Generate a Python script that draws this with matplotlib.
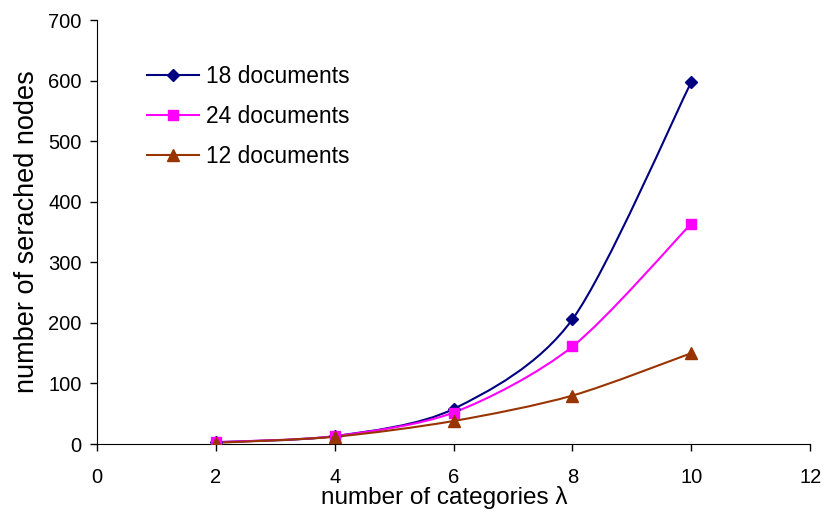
import numpy as np
import matplotlib
matplotlib.use("Agg")
import matplotlib.pyplot as plt
from matplotlib.path import Path
from matplotlib.patches import PathPatch
from matplotlib.lines import Line2D

plt.rcParams['font.family'] = ['Liberation Sans', 'DejaVu Sans']

categories = [2, 4, 6, 8, 10]
docs_18 = [3, 13, 58, 206, 598]
docs_24 = [3, 13, 52, 161, 364]
docs_12 = [2, 12, 38, 80, 150]

labels = ["18 documents", "24 documents", "12 documents"]
colors = ["#000080", "#FF00FF", "#993300"]
markers = ["D", "s", "^"]
msizes = [6, 7, 8]


def smooth_path(x, y):
    # Excel-like smoothed line: cubic Bezier through the points
    pts = np.column_stack([x, y]).astype(float)
    verts = [pts[0]]
    codes = [Path.MOVETO]
    n = len(pts)
    for i in range(n - 1):
        p0 = pts[i - 1] if i > 0 else pts[i]
        p1 = pts[i]
        p2 = pts[i + 1]
        p3 = pts[i + 2] if i + 2 < n else pts[i + 1]
        c1 = p1 + (p2 - p0) / 7.0
        c2 = p2 - (p3 - p1) / 7.0
        verts += [c1, c2, p2]
        codes += [Path.CURVE4] * 3
    return Path(verts, codes)


fig = plt.figure(figsize=(8.25, 5.13), dpi=100)
ax = fig.add_axes([0.1176, 0.1345, 0.8645, 0.8265])

handles = []
for ys, lab, c, m, ms in zip([docs_18, docs_24, docs_12], labels, colors, markers, msizes):
    ax.add_patch(PathPatch(smooth_path(categories, ys), facecolor="none", edgecolor=c, lw=1.5, zorder=2))
    ax.plot(categories, ys, linestyle="none", marker=m, color=c, markersize=ms, zorder=3)
    handles.append(Line2D([], [], color=c, lw=1.5, marker=m, markersize=ms, label=lab))

ax.set_xlim(0, 12)
ax.set_ylim(0, 700)
ax.set_xticks(range(0, 13, 2))
ax.set_yticks(range(0, 701, 100))
ax.spines["top"].set_visible(False)
ax.spines["right"].set_visible(False)
ax.tick_params(direction="out", length=5, labelsize=14.5, width=1)
ax.tick_params(axis="x", pad=12)
ax.tick_params(axis="y", pad=6)

ax.set_xlabel("number of categories λ", fontsize=17.5, labelpad=0)
ax.xaxis.set_label_coords(0.487, -0.1)
ax.set_ylabel("number of serached nodes", fontsize=19.5, labelpad=6)

ax.legend(handles=handles, loc="upper left", bbox_to_anchor=(0.07, 0.895), frameon=False,
          borderaxespad=0, borderpad=0,
          fontsize=16.4, handlelength=2.3, labelspacing=0.75, handletextpad=0.3)

fig.savefig("out.png", dpi=100)
